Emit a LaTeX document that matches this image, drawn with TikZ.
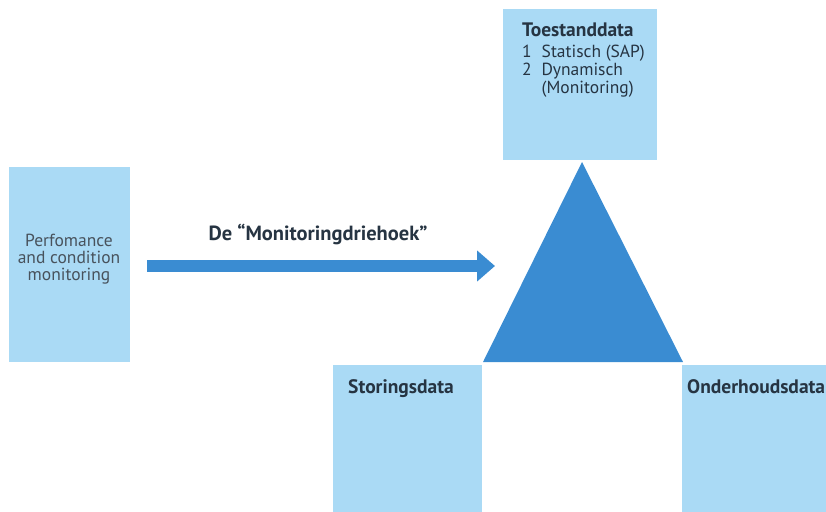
\documentclass[tikz,border=0pt]{standalone}
\usepackage{fontspec}
\setmainfont{PT Sans}
\usetikzlibrary{arrows.meta, positioning}
\definecolor{lichtblauw}{RGB}{170,218,245}
\definecolor{donkerblauw}{RGB}{58,140,210}
\definecolor{tekst}{RGB}{38,52,66}
\definecolor{grijstekst}{RGB}{72,82,92}

\begin{document}
\begin{tikzpicture}[x=1pt,y=-1pt,
  vak/.style={fill=lichtblauw, draw=none, anchor=north west, inner sep=0pt},
  kop/.style={font=\fontsize{19.5}{22}\selectfont\bfseries, text=tekst, anchor=base west, inner sep=0pt},
  regel/.style={font=\fontsize{17.5}{18}\selectfont, text=tekst, inner sep=0pt}]

\useasboundingbox (0,0) rectangle (826,511);
\clip (0,0) rectangle (826,511);

% vakken
\node[vak, minimum width=121pt, minimum height=195pt] (perf) at (9,167) {};
\node[vak, minimum width=154pt, minimum height=151pt] (toestand) at (503,9) {};
\node[vak, minimum width=149pt, minimum height=150pt] (storing) at (333,365) {};
\node[vak, minimum width=150pt, minimum height=150pt] (onderhoud) at (682,365) {};

% driehoek
\coordinate (top) at (582,162);
\coordinate (linksonder) at (483,362);
\coordinate (rechtsonder) at (683,362);
\fill[donkerblauw] (top) -- (linksonder) -- (rechtsonder) -- cycle;

% pijl
\coordinate (pijlstart) at (147,266);
\coordinate (pijlpunt) at (495,266);
\draw[donkerblauw, line width=12pt, -{Triangle[width=30pt,length=18pt]}] (pijlstart) -- (pijlpunt);
\node[kop, font=\fontsize{20.5}{22}\selectfont\bfseries, anchor=base] (titel) at (318,240) {De “Monitoringdriehoek”};

% teksten
\node[regel, text=grijstekst, align=center, font=\fontsize{17.5}{17}\selectfont] (perftekst) at (69,259) {Perfomance\\and condition\\monitoring};
\node[kop] (toestandkop) at (522,37) {Toestanddata};
\node[regel, anchor=base west] (toestandlijst) at (522,57)
  {\begin{tabular}[t]{@{}l@{\hspace{10pt}}l@{}}1&Statisch (SAP)\\2&Dynamisch\\&(Monitoring)\end{tabular}};
\node[kop] (storingkop) at (348,393) {Storingsdata};
\node[kop] (onderhoudkop) at (687,393) {Onderhoudsdata};
\end{tikzpicture}
\end{document}
